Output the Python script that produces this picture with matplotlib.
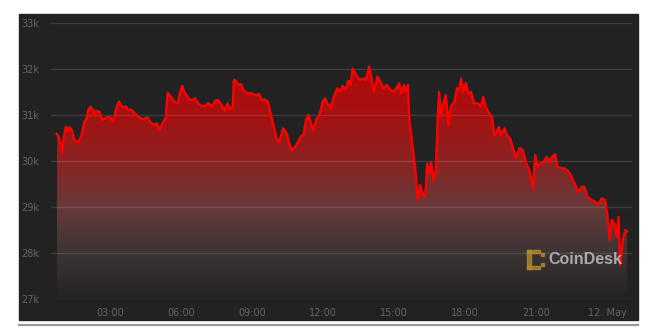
import numpy as np
import matplotlib.pyplot as plt
import matplotlib.patches as mpatches
from matplotlib.colors import LinearSegmentedColormap
from matplotlib.lines import Line2D

# BTC price, 11 May -> 12 May (minutes after midnight on 11 May, USD)
minutes = [45, 52, 59, 63, 68, 72, 77, 83, 91, 100, 108, 115, 121, 125, 131, 136, 140, 144,
           153, 161, 172, 180, 187, 191, 197, 203, 210, 221, 226, 235, 243, 252, 264, 275,
           281, 292, 298, 305, 315, 321, 326, 335, 343, 352, 357, 363, 368, 377, 385, 395,
           404, 414, 423, 429, 438, 448, 456, 463, 470, 478, 484, 491, 494, 499, 505, 512,
           518, 527, 539, 549, 558, 565, 571, 580, 588, 596, 603, 608, 613, 619, 628, 634,
           641, 649, 657, 663, 670, 677, 683, 689, 695, 702, 711, 719, 725, 731, 739, 746,
           756, 763, 770, 778, 784, 790, 795, 804, 812, 822, 829, 837, 843, 849, 858, 864,
           873, 881, 890, 900, 908, 913, 918, 925, 930, 935, 938, 943, 949, 955, 960, 966,
           972, 979, 984, 989, 994, 1000, 1006, 1010, 1014, 1019, 1025, 1031, 1038, 1044,
           1053, 1059, 1065, 1070, 1076, 1082, 1088, 1095, 1103, 1112, 1120, 1126, 1132,
           1141, 1148, 1154, 1160, 1166, 1171, 1180, 1186, 1194, 1202, 1209, 1218, 1226,
           1235, 1243, 1252, 1258, 1263, 1270, 1278, 1287, 1294, 1300, 1308, 1314, 1325,
           1333, 1342, 1350, 1359, 1367, 1376, 1382, 1390, 1401, 1409, 1418, 1426, 1435,
           1441, 1446, 1452, 1458, 1464, 1469, 1473, 1480, 1486, 1491]
prices = [30590, 30490, 30180, 30530, 30740, 30640, 30740, 30670, 30420, 30420, 30560, 30850,
          30930, 31120, 31180, 31110, 31000, 31090, 31070, 30890, 30950, 30960, 30850, 30960,
          31180, 31290, 31180, 31180, 31110, 31110, 31030, 30960, 30900, 30950, 30850, 30780,
          30820, 30670, 30850, 30930, 31480, 31390, 31290, 31250, 31470, 31630, 31500, 31390,
          31310, 31360, 31250, 31180, 31210, 31260, 31180, 31320, 31310, 31210, 31090, 31250,
          31120, 31180, 31760, 31740, 31650, 31670, 31540, 31470, 31470, 31430, 31450, 31310,
          31340, 31290, 31000, 30710, 30460, 30400, 30530, 30710, 30600, 30380, 30240, 30300,
          30420, 30530, 30560, 30890, 31000, 30820, 30670, 30890, 31000, 31290, 31360, 31250,
          31140, 31360, 31580, 31500, 31630, 31550, 31740, 31650, 32010, 31870, 31760, 31790,
          31760, 32050, 31790, 31500, 31830, 31740, 31580, 31650, 31550, 31500, 31610, 31690,
          31470, 31650, 31500, 31650, 30960, 30600, 30170, 29730, 29150, 29480, 29300, 29230,
          29950, 29730, 29980, 29590, 29800, 30820, 31500, 30960, 31250, 31430, 30780, 31180,
          31290, 31580, 31540, 31790, 31500, 31690, 31470, 31500, 31250, 31250, 31180, 31390,
          31180, 31030, 30960, 30560, 30640, 30740, 30560, 30710, 30560, 30490, 30270, 30060,
          30280, 30240, 29950, 29800, 29410, 30130, 29880, 29950, 29980, 30090, 29980, 30090,
          30150, 29880, 29840, 29840, 29770, 29660, 29480, 29330, 29440, 29440, 29230, 29150,
          29120, 29050, 29190, 29150, 28790, 28290, 28720, 28650, 28360, 28790, 27740, 28290,
          28500, 28470]

tick_hours = [3, 6, 9, 12, 15, 18, 21, 24]
tick_labels = ["03:00", "06:00", "09:00", "12:00", "15:00", "18:00", "21:00", "12. May"]
y_ticks = [27, 28, 29, 30, 31, 32, 33]
y_labels = ["27k", "28k", "29k", "30k", "31k", "32k", "33k"]

hours = np.array(minutes) / 60.0
vals = np.array(prices) / 1000.0

W, H = 658, 332
fig = plt.figure(figsize=(W / 100, H / 100), dpi=100)
fig.patch.set_facecolor("white")

# dark panel and grey rule under it
fig.patches.append(mpatches.Rectangle((19 / W, 1 - 320 / H), 619 / W, 306 / H,
                                      transform=fig.transFigure, color="#222222", zorder=-5))
fig.lines.append(Line2D([19 / W, 638 / W], [1 - 324.5 / H] * 2, transform=fig.transFigure,
                        color="#9a9a9a", lw=1.6))

ax = fig.add_axes([51 / W, 1 - 299.3 / H, 581 / W, 276.6 / H])
ax.set_facecolor("none")
for s in ax.spines.values():
    s.set_visible(False)

# gradient fill under the line
cmap = LinearSegmentedColormap.from_list("fill", [
    (0.0, "#242323"), (1 / 6, "#3d3434"), (2 / 6, "#683a3a"),
    (3 / 6, "#8c2323"), (4 / 6, "#a51111"), (5 / 6, "#b00b0b"), (1.0, "#b00b0b")])
base = 27.04
poly = ax.fill_between(hours, vals, base, color="none", lw=0)
grad = np.linspace(0, 1, 256).reshape(-1, 1)
img = ax.imshow(grad, cmap=cmap, origin="lower", aspect="auto",
                extent=[hours[0], hours[-1], 27, 33], zorder=1)
path = poly.get_paths()[0]
img.set_clip_path(path, transform=ax.transData)
ax.set_xlim(0.507, 25.05)
ax.set_ylim(27, 33)

ax.set_yticks(y_ticks)
ax.set_yticklabels(y_labels)
ax.set_xticks(tick_hours)
ax.set_xticklabels(tick_labels)
ax.tick_params(axis="both", length=0, labelsize=7, labelcolor="#646464")
ax.tick_params(axis="y", pad=8.5)
ax.tick_params(axis="x", pad=6.5)
ax.grid(axis="y", color="white", alpha=0.12, lw=1, zorder=2)
ax.set_axisbelow(False)

ax.plot(hours, vals, color="#ff0000", lw=1.7, zorder=3, solid_joinstyle="round")

# CoinDesk watermark
gold = "#b08a2e"
for (x0, y0, w, h) in [(527, 250, 4, 19), (527, 250, 13, 3), (527, 266, 13, 3),
                       (541, 253, 3, 3), (541, 263, 3, 3)]:
    fig.patches.append(mpatches.Rectangle((x0 / W, 1 - (y0 + h) / H), w / W, h / H,
                                          transform=fig.transFigure, color=gold,
                                          alpha=0.8, zorder=4))
fig.text(548 / W, 1 - 260 / H, "CoinDesk", fontsize=11.5, fontweight="bold",
         family="Liberation Sans", color="#c0c0c0", alpha=0.85, va="center", ha="left")

fig.savefig("out.png", dpi=100)
